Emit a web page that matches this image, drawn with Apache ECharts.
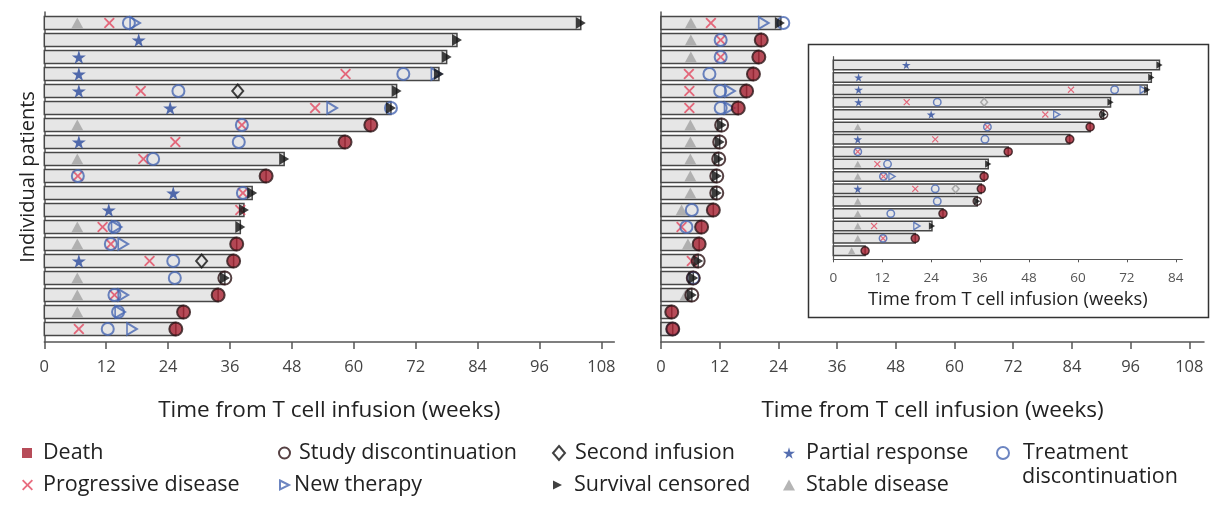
<!DOCTYPE html>
<html>
<head>
<meta charset="utf-8">
<script src="https://cdn.jsdelivr.net/npm/echarts@6/dist/echarts.min.js"></script>
<style>
  html, body { margin: 0; padding: 0; background: #fff; }
  #chart { width: 1216px; height: 506px; }
</style>
</head>
<body>
<div id="chart"></div>
<script>
// ---- data: [patient row, week] ----
var weekTicks = [0, 12, 24, 36, 48, 60, 72, 84, 96, 108];
var insetTicks = [0, 12, 24, 36, 48, 60, 72, 84];

// left panel
var leftEnd = [104, 80, 78, 76.5, 68.3, 67.2, 63.3, 58.3, 46.5, 43, 40.3, 38.7, 38, 37.3, 36.7, 35, 33.7, 27, 25.5];
var leftStable = [[1, 6.4], [7, 6.4], [9, 6.4], [13, 6.4], [14, 6.4], [16, 6.4], [17, 6.4], [18, 6.4]];
var leftPartial = [[2, 18.3], [3, 6.7], [4, 6.7], [5, 6.7], [6, 24.4], [8, 6.7], [11, 25], [12, 12.5], [15, 6.7]];
var leftProgressive = [[1, 12.6], [4, 58.4], [5, 18.7], [6, 52.5], [7, 38.3], [8, 25.4], [9, 19.2], [10, 6.5], [11, 38.5], [12, 38], [13, 11.3], [14, 12.9], [15, 20.4], [17, 13.6], [19, 6.7]];
var leftTreatment = [[1, 16.4], [4, 69.6], [5, 26], [6, 67.2], [7, 38.3], [8, 37.7], [9, 21.1], [10, 6.5], [11, 38.5], [13, 13.6], [14, 12.9], [15, 25], [16, 25.3], [17, 13.6], [18, 14.3], [19, 12.3]];
var leftNewTherapy = [[1, 17.6], [4, 76], [6, 55.8], [13, 14], [14, 15.3], [17, 15.3], [18, 14.7], [19, 17]];
var leftSecond = [[5, 37.5], [15, 30.5]];
var leftDeath = [[7, 63.3], [8, 58.3], [10, 43], [14, 37.3], [15, 36.7], [17, 33.7], [18, 27], [19, 25.5]];
var leftStudy = [[7, 63.3], [8, 58.3], [10, 43], [14, 37.3], [15, 36.7], [16, 35], [17, 33.7], [18, 27], [19, 25.5]];
var leftCensored = [[1, 104], [2, 80], [3, 78], [4, 76.5], [5, 68.3], [6, 67.2], [9, 46.5], [11, 40.3], [12, 38.7], [13, 38], [16, 35]];

// right panel
var rightEnd = [24.5, 20.5, 20, 18.9, 17.5, 15.8, 12.4, 12, 11.8, 11.4, 11.4, 10.7, 8.3, 7.8, 7.6, 6.6, 6.3, 2.2, 2.4];
var rightStable = [[1, 6.1], [2, 6.1], [3, 6.1], [7, 6], [8, 6], [9, 6], [10, 6], [11, 6], [12, 4.2], [14, 5.5], [17, 5]];
var rightProgressive = [[1, 10.2], [2, 12.2], [3, 12.2], [4, 5.7], [5, 5.8], [6, 5.8], [13, 4.2], [15, 6.3]];
var rightTreatment = [[1, 25], [2, 12.2], [3, 12.2], [4, 9.9], [5, 12.1], [6, 12.2], [12, 6.3], [13, 5.2], [16, 6.6], [19, 2.4]];
var rightNewTherapy = [[1, 21], [5, 14.1], [6, 14]];
var rightDeath = [[2, 20.5], [3, 20], [4, 18.9], [5, 17.5], [6, 15.8], [12, 10.7], [13, 8.3], [14, 7.8], [18, 2.2], [19, 2.4]];
var rightStudy = [[2, 20.5], [3, 20], [4, 18.9], [5, 17.5], [6, 15.8], [7, 12.4], [8, 12], [9, 11.8], [10, 11.4], [11, 11.4], [12, 10.7], [13, 8.3], [14, 7.8], [15, 7.6], [16, 6.6], [17, 6.3], [18, 2.2], [19, 2.4]];
var rightCensored = [[1, 24.3], [7, 12.4], [8, 12], [9, 11.8], [10, 11.4], [11, 11.4], [15, 7.6], [16, 6.6], [17, 6.3]];

// inset
var insetEnd = [80, 78, 77, 68, 66.3, 63, 58, 42.9, 38, 37, 36.3, 35.3, 26.9, 24.2, 20.1, 7.8];
var insetStable = [[6, 6], [9, 6], [10, 6], [12, 6], [13, 6], [14, 6], [15, 6], [16, 4.5]];
var insetPartial = [[1, 17.9], [2, 6.2], [3, 6.2], [4, 6.2], [5, 24], [7, 6], [11, 6]];
var insetProgressive = [[3, 58.3], [4, 18], [5, 52], [6, 37.8], [7, 25], [8, 6], [9, 10.8], [10, 12.3], [11, 20.1], [14, 10], [15, 12.2]];
var insetTreatment = [[3, 69], [4, 25.5], [6, 37.8], [7, 37.2], [8, 6], [9, 13.3], [10, 12.3], [11, 25], [12, 25.5], [13, 14.1], [15, 12.2]];
var insetNewTherapy = [[3, 76], [5, 54.8], [10, 14.4], [14, 20.5]];
var insetSecond = [[4, 37], [11, 30]];
var insetDeath = [[6, 63], [7, 58], [8, 42.9], [10, 37], [11, 36.3], [13, 26.9], [15, 20.1], [16, 7.8]];
var insetStudy = [[5, 66.3], [6, 63], [7, 58], [8, 42.9], [10, 37], [11, 36.3], [12, 35.3], [13, 26.9], [15, 20.1], [16, 7.8]];
var insetCensored = [[1, 80], [2, 78], [3, 77], [4, 68], [5, 66.3], [9, 38], [12, 35.3], [14, 24.2]];

// ---- symbols / styles ----
var STAR = 'path://M50,0L61,35L98,35L68,57L79,91L50,70L21,91L32,57L2,35L39,35Z';
var CROSS = 'path://M0,12L12,0L50,38L88,0L100,12L62,50L100,88L88,100L50,62L12,100L0,88L38,50Z';
var RTRI = 'path://M0,0L100,50L0,100Z';
var FONT = '"Open Sans", Roboto, sans-serif';

var styles = {
  'Stable disease': { symbol: 'triangle', size: [12, 11], itemStyle: { color: '#a3a3a3' } },
  'Partial response': { symbol: STAR, size: [14, 14], itemStyle: { color: '#2b4a9c' } },
  'Progressive disease': { symbol: CROSS, size: [11, 11], itemStyle: { color: '#e2475f' } },
  'Treatment discontinuation': { symbol: 'circle', size: [12, 12], itemStyle: { color: 'rgba(255,255,255,0)', borderColor: '#4767b2', borderWidth: 2 } },
  'New therapy': { symbol: RTRI, size: [10, 12], itemStyle: { color: 'rgba(255,255,255,0)', borderColor: '#4767b2', borderWidth: 1.8 } },
  'Second infusion': { symbol: 'diamond', size: [11, 13], itemStyle: { color: 'rgba(255,255,255,0)', borderColor: '#111', borderWidth: 2 } },
  'Death': { symbol: 'circle', size: [12.5, 12.5], itemStyle: { color: '#a51f30' } },
  'Study discontinuation': { symbol: 'circle', size: [13, 13], itemStyle: { color: 'rgba(255,255,255,0)', borderColor: '#2a1013', borderWidth: 2 } },
  'Survival censored': { symbol: RTRI, size: [10, 12], itemStyle: { color: '#111' } }
};

function ev(name, pts, gi, k, extra) {
  var st = styles[name];
  var is = Object.assign({}, st.itemStyle, extra || {});
  if (is.borderWidth && k < 1) is.borderWidth = is.borderWidth * 0.75;
  return {
    type: 'scatter', name: name, xAxisIndex: gi, yAxisIndex: gi,
    symbol: st.symbol, symbolSize: [st.size[0] * k, st.size[1] * k],
    itemStyle: is, z: 3, silent: true,
    data: pts.map(function (p) { return [p[1], p[0]]; })
  };
}

function bars(ends, gi, h) {
  return {
    type: 'custom', xAxisIndex: gi, yAxisIndex: gi, z: 2, silent: true,
    data: ends.map(function (e, i) { return [e, i + 1]; }),
    encode: { x: 0, y: 1 },
    renderItem: function (params, api) {
      var a = api.coord([0, api.value(1)]);
      var b = api.coord([api.value(0), api.value(1)]);
      return {
        type: 'rect',
        shape: { x: a[0], y: a[1] - h / 2, width: b[0] - a[0], height: h },
        style: { fill: '#e6e6e6', stroke: '#474747', lineWidth: 1.5 }
      };
    }
  };
}

function panel(gi, k, d) {
  return [
    ev('Stable disease', d[0], gi, k),
    ev('Partial response', d[1], gi, k),
    ev('Progressive disease', d[2], gi, k),
    ev('Treatment discontinuation', d[3], gi, k),
    ev('New therapy', d[4], gi, k),
    ev('Second infusion', d[5], gi, k, gi === 2 ? { borderColor: '#9a9a9a' } : null),
    ev('Death', d[6], gi, k),
    ev('Study discontinuation', d[7], gi, k),
    ev('Survival censored', d[8], gi, k)
  ];
}

function xAx(gi, max, ticks, big) {
  return {
    type: 'value', gridIndex: gi, min: 0, max: max,
    axisLine: { show: true, onZero: false, lineStyle: { color: '#555', width: big ? 1.5 : 1.2 } },
    axisTick: { show: true, customValues: ticks, length: big ? 7 : 3, lineStyle: { color: '#555', width: big ? 1.5 : 1 } },
    axisLabel: { customValues: ticks, margin: big ? 17 : 12, fontSize: big ? 16.5 : 13.5, color: big ? '#444' : '#555', fontFamily: FONT },
    splitLine: { show: false },
    name: 'Time from T cell infusion (weeks)', nameLocation: 'middle', nameGap: big ? 57 : 31,
    nameTextStyle: { fontSize: big ? 22.5 : 18.4, color: '#222', fontFamily: FONT }
  };
}

function yAx(gi, min, max, name) {
  return {
    type: 'value', gridIndex: gi, inverse: true, min: min, max: max,
    axisLine: { show: true, onZero: false, lineStyle: { color: '#555', width: gi === 2 ? 1.2 : 1.5 } },
    axisTick: { show: false }, axisLabel: { show: false }, splitLine: { show: false },
    name: name || '', nameLocation: 'middle', nameRotate: 90, nameGap: 6,
    nameTextStyle: { fontSize: 20, color: '#222', fontFamily: FONT }
  };
}

function leg(name, left, top, icon, w, h, pad, text) {
  return {
    data: [{ name: name, icon: icon }], left: left, top: top, padding: 0,
    itemWidth: w, itemHeight: h, selectedMode: false,
    textStyle: { fontSize: 21.5, color: '#222', fontFamily: FONT, padding: [0, 0, 0, pad] },
    formatter: text ? function () { return text; } : '{name}'
  };
}

var series = [
  bars(leftEnd, 0, 13), bars(rightEnd, 1, 13), bars(insetEnd, 2, 9.5)
].concat(
  panel(0, 1, [leftStable, leftPartial, leftProgressive, leftTreatment, leftNewTherapy, leftSecond, leftDeath, leftStudy, leftCensored]),
  panel(1, 1, [rightStable, [], rightProgressive, rightTreatment, rightNewTherapy, [], rightDeath, rightStudy, rightCensored]),
  panel(2, 0.62, [insetStable, insetPartial, insetProgressive, insetTreatment, insetNewTherapy, insetSecond, insetDeath, insetStudy, insetCensored])
);

var chart = echarts.init(document.getElementById('chart'));
chart.setOption({
  animation: false,
  backgroundColor: '#fff',
  grid: [
    { left: 44.3, top: 12, width: 570, height: 330 },
    { left: 661, top: 12, width: 543, height: 330 },
    { left: 833.3, top: 56.7, width: 349, height: 202.6 }
  ],
  xAxis: [xAx(0, 110.5, weekTicks, true), xAx(1, 111, weekTicks, true), xAx(2, 85.6, insetTicks, false)],
  yAxis: [yAx(0, 0.353, 19.765, 'Individual patients'), yAx(1, 0.353, 19.765), yAx(2, 0.33, 16.69)],
  legend: [
    leg('Death', 22, 442, 'rect', 10, 10, 6),
    leg('Progressive disease', 22, 474, CROSS, 11, 11, 5),
    leg('Study discontinuation', 278, 442, 'circle', 11, 11, 4),
    leg('New therapy', 279, 474, RTRI, 9, 11, 0),
    leg('Second infusion', 552, 442, 'diamond', 12, 14, 5),
    leg('Survival censored', 553, 474, RTRI, 9, 11, 7),
    leg('Partial response', 783, 442, STAR, 12, 12, 6),
    leg('Stable disease', 783, 474, 'triangle', 12, 11, 6),
    leg('Treatment discontinuation', 996, 442, 'circle', 12, 12, 9, 'Treatment')
  ],
  graphic: [
    { type: 'rect', left: 806, top: 42, shape: { width: 400, height: 273 }, style: { fill: 'none', stroke: '#333', lineWidth: 1.5 }, z: 0 },
    { type: 'text', left: 1022, top: 466, style: { text: 'discontinuation', fontSize: 21.5, fill: '#222', fontFamily: FONT } }
  ],
  series: series
});
</script>
</body>
</html>
